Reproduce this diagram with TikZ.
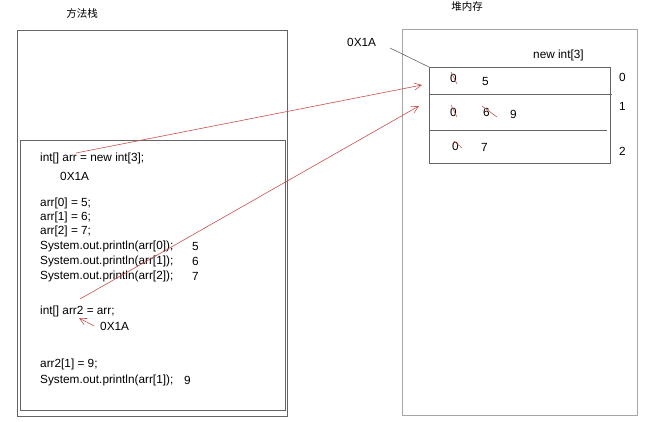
\documentclass[tikz,border=0pt]{standalone}
\usepackage{fontspec}
\setmainfont{Liberation Sans}
\newfontfamily\cjk{Noto Sans CJK SC}
\usetikzlibrary{arrows.meta}
\definecolor{boxgray}{RGB}{100,100,100}
\definecolor{redline}{RGB}{200,80,80}
\tikzset{
  frame/.style={draw=boxgray, line width=0.9pt},
  txt/.style={anchor=west, inner sep=0pt, font=\fontsize{11.8}{13}\selectfont},
  title/.style={inner sep=0pt, font=\cjk\fontsize{10.5}{12}\selectfont},
  refarrow/.style={draw=redline, line width=0.6pt, -{Straight Barb[length=7pt,width=7pt]}},
  strike/.style={draw=redline, line width=0.6pt},
  cell/.style={draw=boxgray, line width=0.8pt}
}
\begin{document}
\begin{tikzpicture}[x=1pt,y=-1pt]
\useasboundingbox (0,0) rectangle (646,421);
% titles
\node[title] (stackT) at (82,13) {方法栈};
\node[title] (heapT) at (467,7) {堆内存};
% stack boxes
\draw[frame] (17,30) rectangle (287,416);
\draw[frame] (20,140) rectangle (285,410);
% heap box
\draw[frame, draw=gray!70] (402,29) rectangle (637,415);
% array
\draw[cell] (429,67) rectangle (610,163);
\draw[cell] (429,94) -- (612,94);
\draw[cell] (429,130) -- (607,130);
\node[txt] (newint) at (533,55) {new int[3]};
\node[txt] (i0) at (619,77) {0};
\node[txt] (i1) at (619,106) {1};
\node[txt] (i2) at (619,151) {2};
\node[txt] (addr) at (347,42) {0X1A};
\coordinate (arrtop) at (429,67);
\draw[draw=boxgray, line width=0.6pt] (390,48) -- (arrtop);
% row values
\node[txt] (r0a) at (450,78) {0};
\node[txt] (r0b) at (482,81) {5};
\node[txt] (r1a) at (450,112) {0};
\node[txt] (r1b) at (483,112) {6};
\node[txt] (r1c) at (510,114) {9};
\node[txt] (r2a) at (452,146) {0};
\node[txt] (r2b) at (481,147) {7};
\draw[strike] (451,72) -- (457,84);
\draw[strike] (451,105) -- (457,117);
\draw[strike] (482,106) -- (497,117);
\draw[strike] (454,141) -- (462,148);
% code
\node[txt] (c1) at (40,158) {int[] arr = new int[3];};
\node[txt] (c2) at (60,176) {0X1A};
\node[txt] (c3) at (40,203) {arr[0] = 5;};
\node[txt] (c4) at (40,217) {arr[1] = 6;};
\node[txt] (c5) at (40,231) {arr[2] = 7;};
\node[txt] (c6) at (40,246) {System.out.println(arr[0]);};
\node[txt] (c7) at (40,261) {System.out.println(arr[1]);};
\node[txt] (c8) at (40,276) {System.out.println(arr[2]);};
\node[txt] (v6) at (192,246) {5};
\node[txt] (v7) at (192,261) {6};
\node[txt] (v8) at (192,276) {7};
\node[txt] (c9) at (40,311) {int[] arr2 = arr;};
\node[txt] (c10) at (100,326) {0X1A};
\node[txt] (c11) at (40,364) {arr2[1] = 9;};
\node[txt] (c12) at (40,380) {System.out.println(arr[1]);};
\node[txt] (v12) at (184,380) {9};
% red arrows
\coordinate (s1) at (76,153);
\coordinate (e1) at (422,85);
\coordinate (s2) at (80,299);
\coordinate (e2) at (419,106);
\coordinate (s3) at (94,326);
\coordinate (e3) at (79,318);
\draw[refarrow] (s1) -- (e1);
\draw[refarrow] (s2) -- (e2);
\draw[refarrow] (s3) -- (e3);
\end{tikzpicture}
\end{document}
